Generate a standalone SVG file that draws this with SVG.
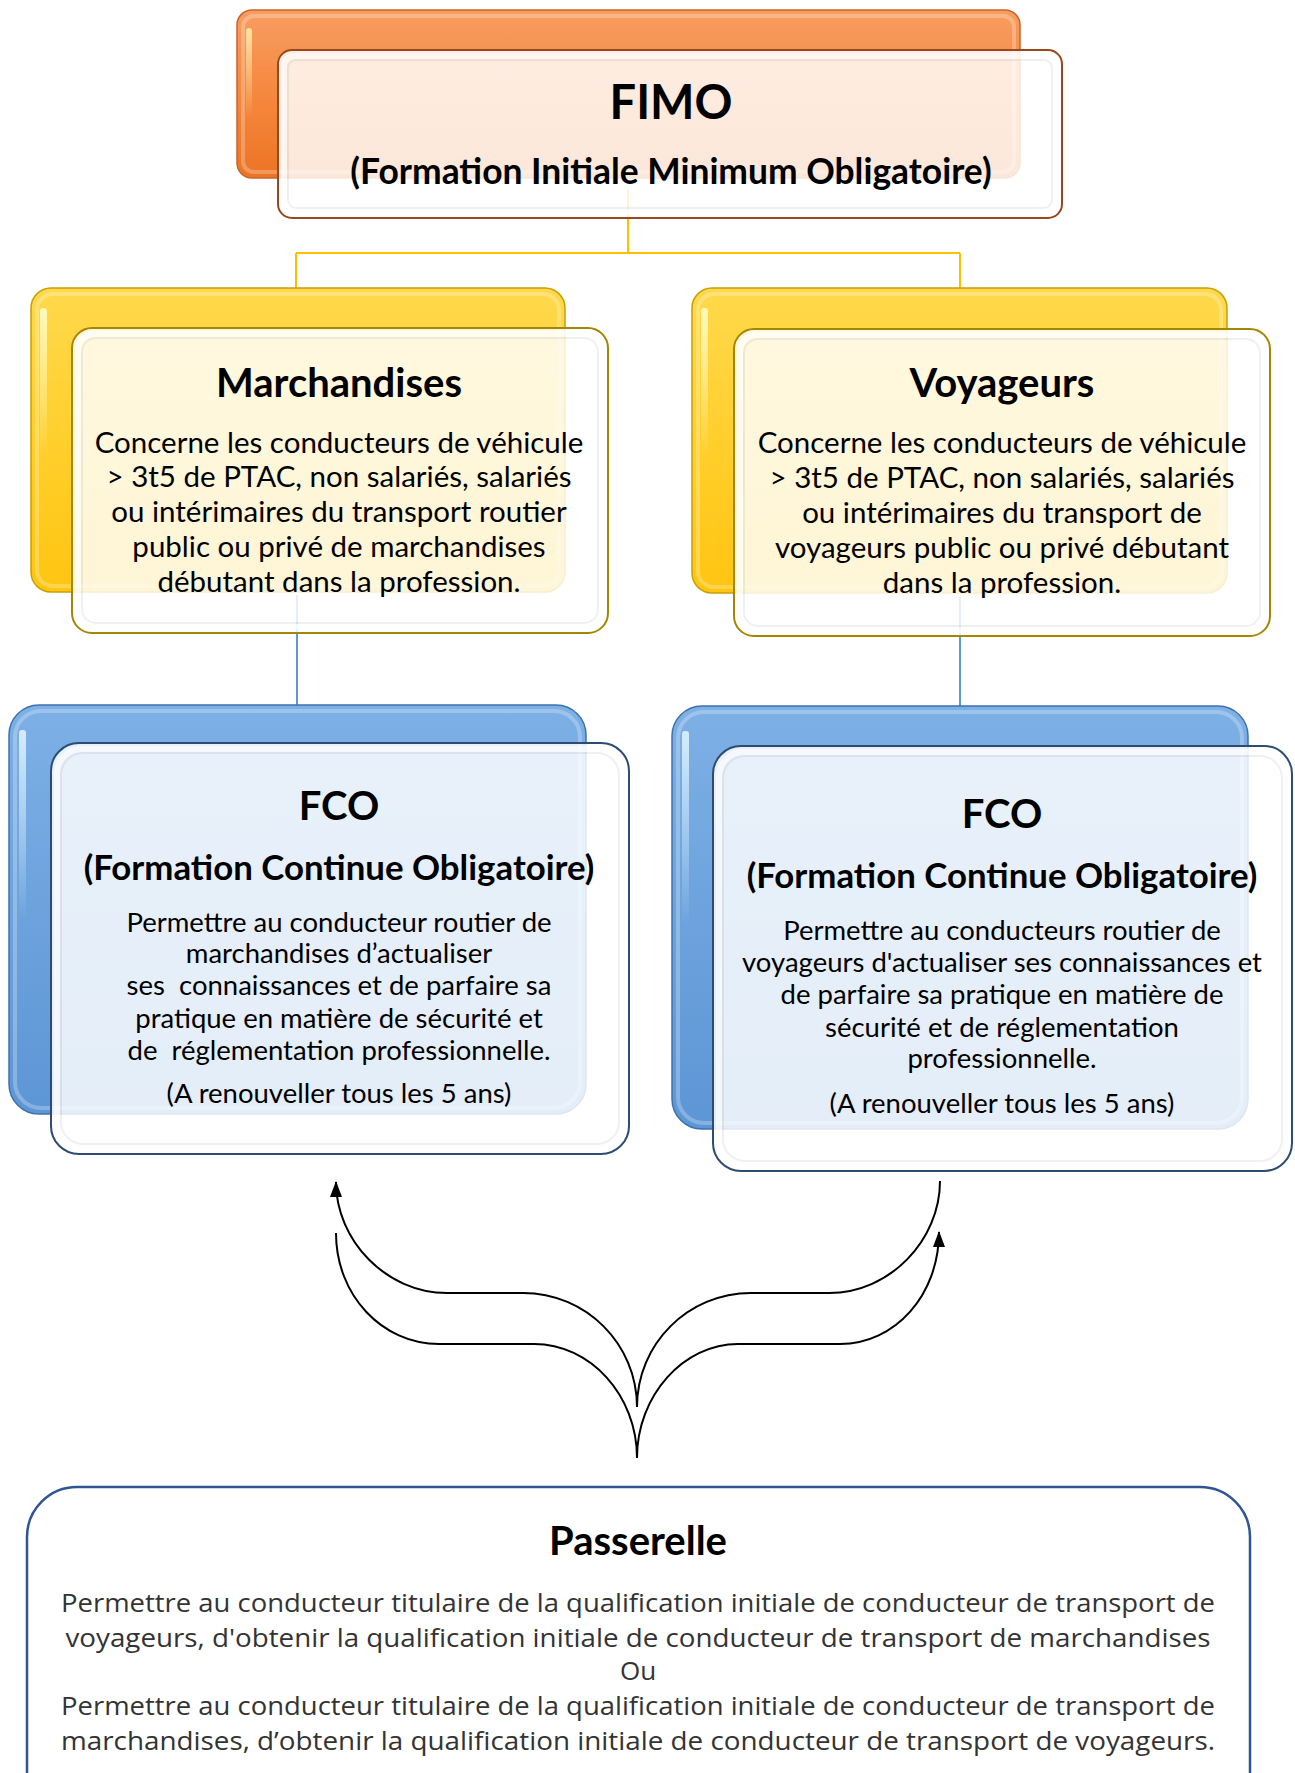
<svg xmlns="http://www.w3.org/2000/svg" width="1295" height="1773" viewBox="0 0 1295 1773">
<defs>
<style>
.t{font-family:Lato,"Liberation Sans",sans-serif;fill:#000;text-anchor:middle}
.big{font-weight:700;font-size:47px}
.sub{font-weight:700;font-size:35.4px}
.fsub{font-weight:700;font-size:34.8px}
.ttl{font-weight:700;font-size:40px}
.body{font-size:29.5px}
.fbody{font-size:27.5px}
.pt{font-family:"Open Sans",Roboto,"Liberation Sans",sans-serif;font-size:26px;fill:#333;text-anchor:middle}
.ptl{font-family:Lato,"Liberation Sans",sans-serif;font-weight:700;font-size:40px;fill:#000;text-anchor:middle}
.front{fill:#fff;fill-opacity:0.83;stroke-width:2}
.rimw{fill:none;stroke:#fff;stroke-width:6;stroke-opacity:0.55}
.rimg{fill:none;stroke:#000;stroke-opacity:0.06;stroke-width:2}
.hl{fill:none;stroke:#fff;stroke-opacity:0.25;stroke-width:4}
.yl{fill:none;stroke:#FFC000;stroke-width:2}
.bl{fill:none;stroke:#5B9BD5;stroke-width:2}
.arr{fill:none;stroke:#000;stroke-width:2}
</style>
<linearGradient id="gO" x1="0" y1="0" x2="0" y2="1">
<stop offset="0" stop-color="#F89D61"/><stop offset="0.5" stop-color="#F5883F"/><stop offset="1" stop-color="#EC7424"/>
</linearGradient>
<linearGradient id="gY" x1="0" y1="0" x2="0" y2="1">
<stop offset="0" stop-color="#FFD94C"/><stop offset="0.5" stop-color="#FFCF2C"/><stop offset="1" stop-color="#FFC511"/>
</linearGradient>
<linearGradient id="gB" x1="0" y1="0" x2="0" y2="1">
<stop offset="0" stop-color="#7DB0E5"/><stop offset="0.5" stop-color="#6CA3DD"/><stop offset="1" stop-color="#5D96D6"/>
</linearGradient>
<linearGradient id="hO" x1="0" y1="0" x2="0" y2="1">
<stop offset="0" stop-color="#FFE9A8" stop-opacity="0.9"/><stop offset="1" stop-color="#FFE9A8" stop-opacity="0"/>
</linearGradient>
<linearGradient id="hY" x1="0" y1="0" x2="0" y2="1">
<stop offset="0" stop-color="#FFFBC0" stop-opacity="0.95"/><stop offset="1" stop-color="#FFFBC0" stop-opacity="0"/>
</linearGradient>
<linearGradient id="hB" x1="0" y1="0" x2="0" y2="1">
<stop offset="0" stop-color="#D8F0FF" stop-opacity="0.95"/><stop offset="1" stop-color="#D8F0FF" stop-opacity="0"/>
</linearGradient>
<marker id="ah" viewBox="0 0 16 12" refX="15" refY="6" markerWidth="16" markerHeight="12" markerUnits="userSpaceOnUse" orient="auto">
<path d="M0,0 L16,6 L0,12 z" fill="#000"/>
</marker>
</defs>
<rect width="1295" height="1773" fill="#fff"/>

<g id="connectors">
<path class="yl" d="M628,190 V253 M296,253 H960 M296,253 V300 M960,253 V300"/>
<path class="bl" d="M297,595 V715 M960,597 V716"/>
<path class="arr" marker-end="url(#ah)" d="M637,1407 C637,1344 586,1293 523,1293 L447,1293 C386,1293 336,1240 336,1182"/>
<path class="arr" d="M637,1407 C637,1344 688,1293 751,1293 L829,1293 C890,1293 940,1240 940,1181"/>
<path class="arr" d="M637,1458 C637,1395 590,1344 534,1344 L439,1344 C382,1344 336,1295 336,1233"/>
<path class="arr" marker-end="url(#ah)" d="M637,1458 C637,1395 684,1344 738,1344 L840,1344 C895,1344 939,1295 939,1232"/>
</g>

<g id="fimo">
<rect x="237" y="10" width="783" height="168" rx="15" fill="url(#gO)" stroke="#C8652A" stroke-width="1.5"/>
<rect x="243" y="16" width="771" height="156" rx="11" class="hl"/>
<rect x="246" y="28" width="6" height="90" rx="3" fill="url(#hO)"/>
<rect x="278" y="50" width="784" height="168" rx="14" class="front" stroke="#98481C"/>
<rect x="284" y="56" width="772" height="156" rx="10" class="rimw"/>
<rect x="288" y="60" width="764" height="148" rx="8" class="rimg"/>
<text class="t big" x="671" y="119">FIMO</text>
<text class="t sub" x="671" y="184">(Formation Initiale Minimum Obligatoire)</text>
</g>

<g id="marchandises">
<rect x="31" y="288" width="534" height="304" rx="20" fill="url(#gY)" stroke="#C9A000" stroke-width="1.5"/>
<rect x="37" y="294" width="522" height="292" rx="16" class="hl"/>
<rect x="40" y="308" width="7" height="150" rx="3" fill="url(#hY)"/>
<rect x="72" y="328" width="536" height="305" rx="20" class="front" stroke="#A58600"/>
<rect x="78" y="334" width="524" height="293" rx="16" class="rimw"/>
<rect x="82" y="338" width="516" height="285" rx="14" class="rimg"/>
<text class="t ttl" x="339" y="397">Marchandises</text>
<text class="t body" x="339" y="453">Concerne les conducteurs de véhicule</text>
<text class="t body" x="339" y="487">&gt; 3t5 de PTAC, non salariés, salariés</text>
<text class="t body" x="339" y="522">ou intérimaires du transport routier</text>
<text class="t body" x="339" y="557">public ou privé de marchandises</text>
<text class="t body" x="339" y="592">débutant dans la profession.</text>
</g>

<g id="voyageurs">
<rect x="692" y="288" width="535" height="305" rx="20" fill="url(#gY)" stroke="#C9A000" stroke-width="1.5"/>
<rect x="698" y="294" width="523" height="293" rx="16" class="hl"/>
<rect x="701" y="308" width="7" height="150" rx="3" fill="url(#hY)"/>
<rect x="734" y="329" width="536" height="307" rx="20" class="front" stroke="#A58600"/>
<rect x="740" y="335" width="524" height="295" rx="16" class="rimw"/>
<rect x="744" y="339" width="516" height="287" rx="14" class="rimg"/>
<text class="t ttl" x="1002" y="397">Voyageurs</text>
<text class="t body" x="1002" y="453">Concerne les conducteurs de véhicule</text>
<text class="t body" x="1002" y="488">&gt; 3t5 de PTAC, non salariés, salariés</text>
<text class="t body" x="1002" y="523">ou intérimaires du transport de</text>
<text class="t body" x="1002" y="558">voyageurs public ou privé débutant</text>
<text class="t body" x="1002" y="593">dans la profession.</text>
</g>

<g id="fco-marchandises">
<rect x="9" y="705" width="577" height="409" rx="30" fill="url(#gB)" stroke="#3E72AE" stroke-width="1.5"/>
<rect x="15" y="711" width="565" height="397" rx="26" class="hl"/>
<rect x="19" y="730" width="7" height="190" rx="3" fill="url(#hB)"/>
<rect x="51" y="743" width="578" height="411" rx="28" class="front" stroke="#2E4C73"/>
<rect x="57" y="749" width="566" height="399" rx="24" class="rimw"/>
<rect x="61" y="753" width="558" height="391" rx="22" class="rimg"/>
<text class="t ttl" x="339" y="820">FCO</text>
<text class="t fsub" x="339" y="880">(Formation Continue Obligatoire)</text>
<text class="t fbody" x="339" y="932">Permettre au conducteur routier de</text>
<text class="t fbody" x="339" y="963">marchandises d’actualiser</text>
<text class="t fbody" x="339" y="995" xml:space="preserve">ses  connaissances et de parfaire sa</text>
<text class="t fbody" x="339" y="1028">pratique en matière de sécurité et</text>
<text class="t fbody" x="339" y="1060" xml:space="preserve">de  réglementation professionnelle.</text>
<text class="t fbody" x="339" y="1103">(A renouveller tous les 5 ans)</text>
</g>

<g id="fco-voyageurs">
<rect x="672" y="706" width="576" height="423" rx="30" fill="url(#gB)" stroke="#3E72AE" stroke-width="1.5"/>
<rect x="678" y="712" width="564" height="411" rx="26" class="hl"/>
<rect x="682" y="731" width="7" height="195" rx="3" fill="url(#hB)"/>
<rect x="713" y="746" width="579" height="425" rx="28" class="front" stroke="#2E4C73"/>
<rect x="719" y="752" width="567" height="413" rx="24" class="rimw"/>
<rect x="723" y="756" width="559" height="405" rx="22" class="rimg"/>
<text class="t ttl" x="1002" y="828">FCO</text>
<text class="t fsub" x="1002" y="888">(Formation Continue Obligatoire)</text>
<text class="t fbody" x="1002" y="940">Permettre au conducteurs routier de</text>
<text class="t fbody" x="1002" y="972">voyageurs d'actualiser ses connaissances et</text>
<text class="t fbody" x="1002" y="1004">de parfaire sa pratique en matière de</text>
<text class="t fbody" x="1002" y="1037">sécurité et de réglementation</text>
<text class="t fbody" x="1002" y="1068">professionnelle.</text>
<text class="t fbody" x="1002" y="1113">(A renouveller tous les 5 ans)</text>
</g>

<g id="passerelle">
<rect x="27" y="1487" width="1223" height="340" rx="50" fill="#fff" stroke="#2F5597" stroke-width="2.5"/>
<text class="ptl" x="638" y="1555">Passerelle</text>
<text class="pt" x="638" y="1612" textLength="1154" lengthAdjust="spacingAndGlyphs">Permettre au conducteur titulaire de la qualification initiale de conducteur de transport de</text>
<text class="pt" x="638" y="1647" textLength="1145" lengthAdjust="spacingAndGlyphs">voyageurs, d'obtenir la qualification initiale de conducteur de transport de marchandises</text>
<text class="pt" x="638" y="1680">Ou</text>
<text class="pt" x="638" y="1715" textLength="1154" lengthAdjust="spacingAndGlyphs">Permettre au conducteur titulaire de la qualification initiale de conducteur de transport de</text>
<text class="pt" x="638" y="1750" textLength="1154" lengthAdjust="spacingAndGlyphs">marchandises, d’obtenir la qualification initiale de conducteur de transport de voyageurs.</text>
</g>
</svg>
